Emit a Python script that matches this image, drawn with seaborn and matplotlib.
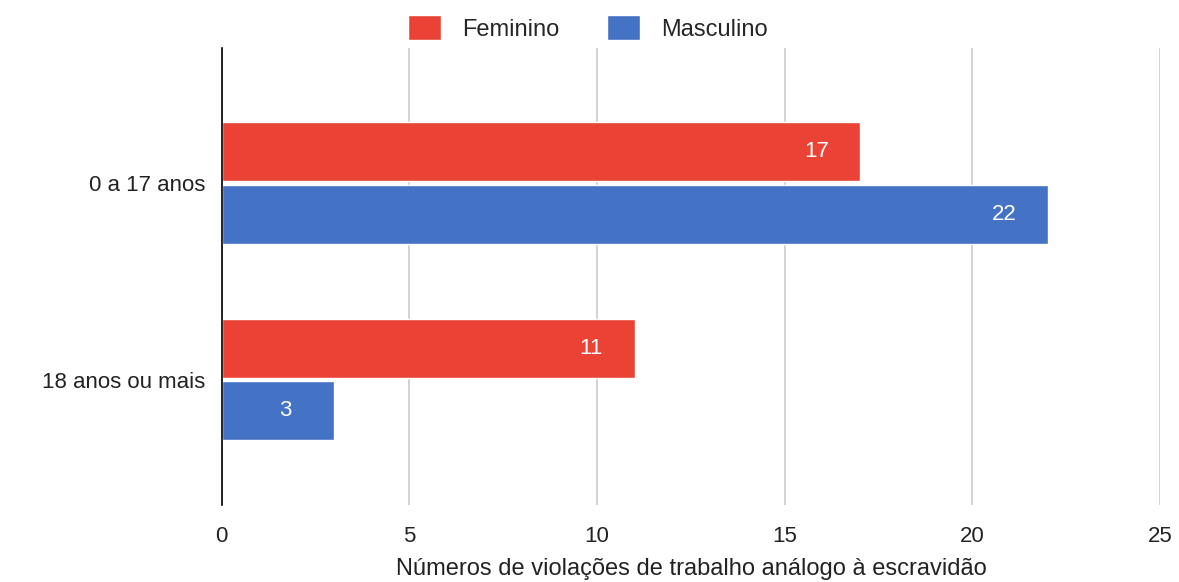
import matplotlib
matplotlib.use("Agg")
import matplotlib.pyplot as plt
import pandas as pd
import seaborn as sns

# data
faixas = ["0 a 17 anos", "18 anos ou mais"]
feminino = [17, 11]
masculino = [22, 3]
sexos = ["Feminino", "Masculino"]
cores = {"Feminino": "#EA4335", "Masculino": "#4472C4"}

df = pd.DataFrame({
    "faixa": faixas * 2,
    "sexo": ["Feminino"] * len(faixas) + ["Masculino"] * len(faixas),
    "valor": feminino + masculino,
})

sns.set_style("white")
plt.rcParams['font.family'] = ['Liberation Sans', 'DejaVu Sans']

fig = plt.figure(figsize=(11.79, 5.82), dpi=100)
ax = fig.add_axes([0.188, 0.132, 0.796, 0.786])

sns.barplot(data=df, y="faixa", x="valor", hue="sexo", hue_order=sexos,
            palette=cores, orient="h", width=0.64, gap=0.06,
            saturation=1, ax=ax, legend=True)

# value labels inside the bar ends
for cont in ax.containers:
    ax.bar_label(cont, labels=[f"{int(v)}" for v in cont.datavalues],
                 padding=-40, color="white", fontsize=16)

ax.set_xlim(0, 25)
ax.set_ylim(1.64, -0.69)
ax.set_xticks(range(0, 26, 5))
ax.grid(axis="x", color="#CCCCCC", linewidth=1.2)
ax.set_axisbelow(True)
for s in ["top", "right", "bottom"]:
    ax.spines[s].set_visible(False)
ax.spines["left"].set_color("black")
ax.spines["left"].set_linewidth(1.2)
ax.tick_params(axis="both", length=0, labelsize=16, colors="#222222")
ax.tick_params(axis="x", pad=15)
ax.tick_params(axis="y", pad=12)
ax.set_ylabel("")
ax.set_xlabel("Números de violações de trabalho análogo à escravidão",
              fontsize=17, labelpad=8, color="#222222")

ax.legend(loc="lower center", bbox_to_anchor=(0.39, 0.995), ncol=2, frameon=False,
          fontsize=17, handlelength=1.4, handleheight=1.2, columnspacing=2.0,
          handletextpad=0.9, borderaxespad=0.0)

fig.savefig("out.png", dpi=100)
